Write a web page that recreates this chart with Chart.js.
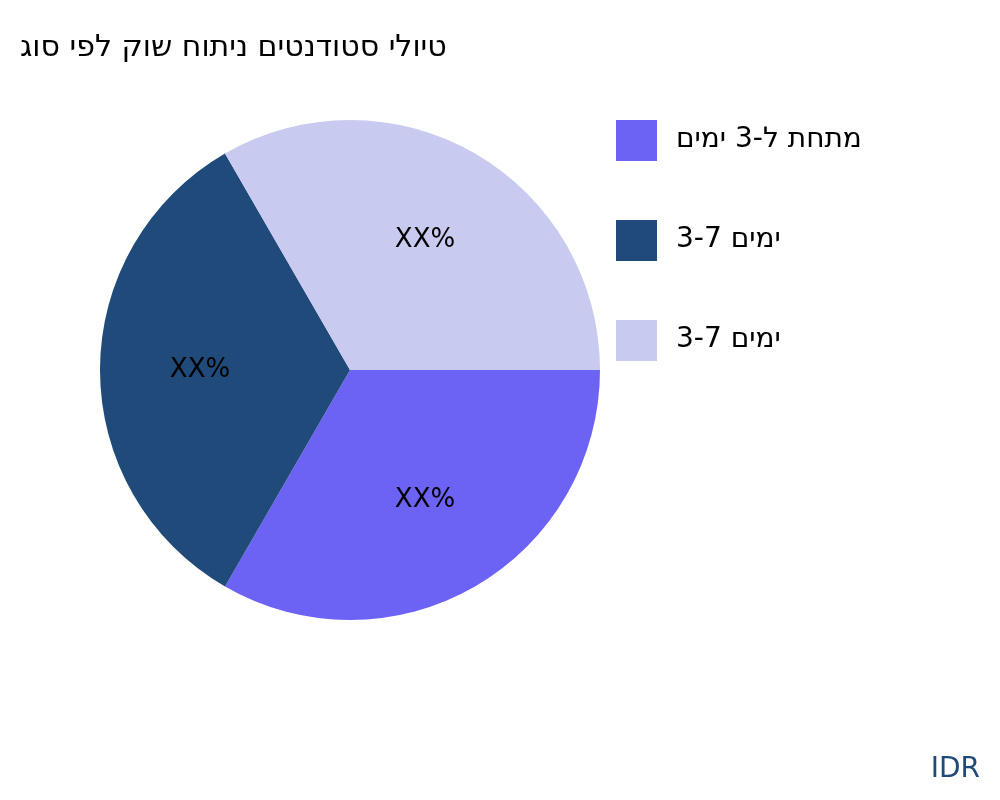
<!DOCTYPE html>
<html><head><meta charset="utf-8">
<script src="https://cdn.jsdelivr.net/npm/chart.js@4"></script>
<style>html,body{margin:0;background:#fff}#w{width:1000px;height:800px}</style>
</head><body><div id="w"><canvas id="c" width="1000" height="800"></canvas></div>
<script>
const LRO='\u202D', PDF='\u202C';
const title='גוס יפל קוש חותינ םיטנדוטס ילויט';
const categories=['םימי 3-ל תחתמ','3-7 םימי','3-7 םימי'];
const values=[1,1,1];
const valueLabels=['XX%','XX%','XX%'];
const colors=['#6c63f4','#1f4a7a','#c9caf0'];
const FONT='"DejaVu Sans", sans-serif';
const deco={id:'deco',afterDraw(ch){
  const x=ch.ctx; x.save();
  x.textBaseline='middle'; x.textAlign='left';
  x.fillStyle='#000'; x.font='30px '+FONT;
  x.fillText(LRO+title+PDF,20,48);
  x.font='28px '+FONT;
  categories.forEach((c,i)=>{
    const y=140+i*100;
    x.fillStyle=colors[i]; x.fillRect(616,y-20,41,41);
    x.fillStyle='#000'; x.fillText(LRO+c+PDF,676,y);
  });
  x.textAlign='center'; x.font='26px '+FONT;
  ch.getDatasetMeta(0).data.forEach((a,i)=>{
    const m=(a.startAngle+a.endAngle)/2, r=a.outerRadius*0.6;
    x.fillText(valueLabels[i],a.x+Math.cos(m)*r,a.y+Math.sin(m)*r);
  });
  x.textAlign='right'; x.fillStyle='#1f4a7a'; x.font='28px '+FONT;
  x.fillText('IDR',980,770);
  x.restore();
}};
new Chart(document.getElementById('c'),{type:'pie',
 data:{labels:categories,datasets:[{data:values,backgroundColor:colors,borderWidth:0}]},
 options:{responsive:false,animation:false,rotation:90,
  layout:{padding:{left:100,right:400,top:120,bottom:180}},
  plugins:{legend:{display:false},tooltip:{enabled:false}}},
 plugins:[deco]});
</script></body></html>
